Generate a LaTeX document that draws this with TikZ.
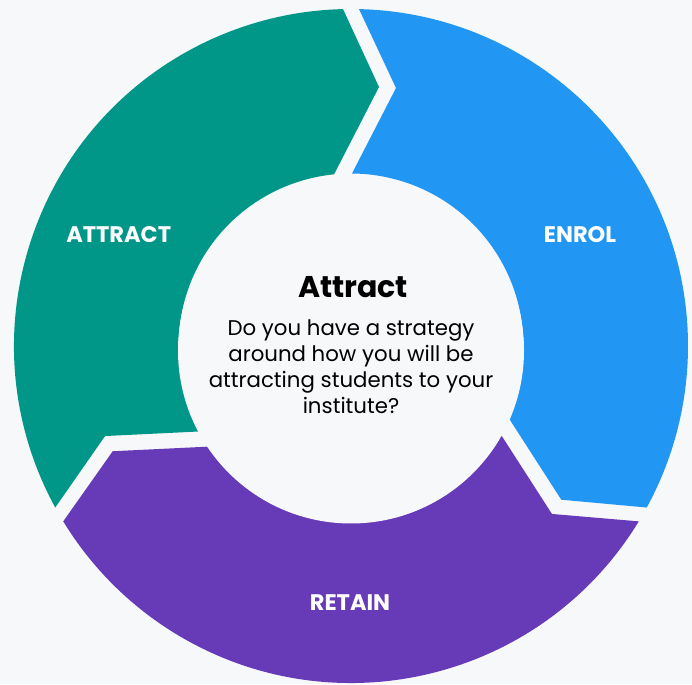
\documentclass[tikz,border=0pt]{standalone}
\usepackage{fontspec}
\setmainfont{Poppins}
\definecolor{bgc}{HTML}{F7F8FA}
\definecolor{tealc}{HTML}{009688}
\definecolor{bluec}{HTML}{2196F3}
\definecolor{purplec}{HTML}{673AB7}
\tikzset{
  seglabel/.style={text=white, font=\bfseries\fontsize{22.5}{26}\selectfont, anchor=base, inner sep=0pt},
}
\begin{document}
\begin{tikzpicture}[x=1pt,y=1pt]
\useasboundingbox (0,0) rectangle (692,684);
\fill[bgc] (0,0) rectangle (692,684);
\coordinate (C) at (351,338);
\foreach \rot/\col in {0/tealc,-120/bluec,120/purplec}{
  \fill[\col, shift={(C)}, rotate=\rot]
    (208.64:337) arc[start angle=208.64, end angle=91.36, radius=337]
    -- (83.83:260.5) -- (95.64:172.5)
    arc[start angle=95.64, end angle=209.67, radius=172.5]
    -- (200.11:261.9) -- cycle;
}
\fill[bgc] (351,333.5) circle[radius=173];
\node[seglabel] (attract) at (118.7,441) {ATTRACT};
\node[seglabel] (enrol) at (580,441) {ENROL};
\node[seglabel] (retain) at (350,73.7) {RETAIN};
\node[anchor=base, inner sep=0pt, font=\bfseries\fontsize{30}{36}\selectfont] (title) at (353,386.3) {Attract};
\node[anchor=base, inner sep=0pt, align=center, font=\fontsize{21.3}{26}\selectfont] (body) at (351,270) {Do you have a strategy\\around how you will be\\attracting students to your\\institute?};
\end{tikzpicture}
\end{document}
